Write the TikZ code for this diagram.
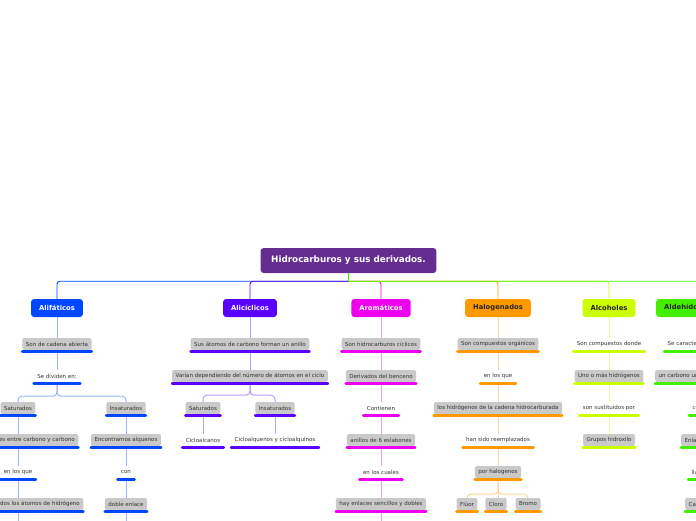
\documentclass[tikz,border=0pt]{standalone}
\usepackage{fontspec}
\setmainfont{DejaVu Sans}
\usetikzlibrary{backgrounds}
\definecolor{rootc}{HTML}{662D91}
\definecolor{alifc}{HTML}{0047FF}
\definecolor{alicc}{HTML}{5A00FF}
\definecolor{aromc}{HTML}{EE00EE}
\definecolor{haloc}{HTML}{FF9900}
\definecolor{alcoc}{HTML}{CCFF00}
\definecolor{aldec}{HTML}{44EE00}
\definecolor{subgray}{HTML}{C9C9C9}
\definecolor{subtext}{HTML}{333333}
\begin{document}
\begin{tikzpicture}[x=1pt,y=-1pt,
	root/.style={rectangle, rounded corners=3pt, fill=rootc, text=white, font=\fontsize{8.8}{10}\selectfont\bfseries, minimum height=25pt, inner xsep=10.5pt},
	main/.style={rectangle, rounded corners=3pt, fill=#1, text=black!85, font=\fontsize{6.8}{8}\selectfont\bfseries, minimum height=18pt, inner xsep=8pt},
	ul/.style={append after command={\pgfextra{\let\ulnode=\tikzlastnode}
		([yshift=-1.2pt]\ulnode.south west) edge[draw=#1, line width=2.4pt, line cap=round] ([yshift=-1.2pt]\ulnode.south east)}},
	sub/.style={rectangle, rounded corners=2pt, fill=subgray, text=subtext, font=\fontsize{5.5}{6}\selectfont, minimum height=12pt, inner xsep=3.5pt, inner ysep=0pt, ul=#1},
	txt/.style={rectangle, text=subtext, font=\fontsize{5.5}{6}\selectfont, minimum height=12pt, inner xsep=3.5pt, inner ysep=0pt, ul=#1},
	bus/.style={draw=#1, line width=0.9pt, rounded corners=3pt},
	link/.style={draw=#1!40, line width=1pt, rounded corners=4pt}]
	
	\useasboundingbox (0,0) rectangle (696,520);
	
	%Root
	\node[root] (root) at (348.5,260.5) {Hidrocarburos y sus derivados.};
	\coordinate (hub) at ([yshift=-8pt]root.south);
	
	%Alifaticos
	\node[main=alifc, text=white] (alif) at (57,308) {Alifáticos};
	\node[sub=alifc] (cadena) at (57,344) {Son de cadena abierta};
	\node[txt=alifc] (divid) at (57,376) {Se dividen en:};
	\node[sub=alifc] (satA) at (18,408) {Saturados};
	\node[sub=alifc] (insA) at (126,408) {Insaturados};
	\node[sub=alifc, anchor=east] (enlA) at (78.5,440) {Enlaces simples entre carbono y carbono};
	\node[txt=alifc] (enqA) at (18,472) {en los que};
	\node[sub=alifc, anchor=east] (ocupA) at (83.5,504) {Están ocupados todos los átomos de hidrógeno};
	\node[sub=alifc] (alqA) at (126,440) {Encontramos alquenos};
	\node[txt=alifc] (conA) at (126,472) {con};
	\node[sub=alifc] (dobA) at (126,504) {doble enlace};
	
	%Aliciclicos
	\node[main=alicc, text=white] (alic) at (250,308) {Alicíclicos};
	\node[sub=alicc] (anillo) at (250,344) {Sus átomos de carbono forman un anillo};
	\node[sub=alicc] (varian) at (250,376) {Varían dependiendo del número de átomos en el ciclo};
	\node[sub=alicc] (satB) at (203,408) {Saturados};
	\node[sub=alicc] (insB) at (275,408) {Insaturados};
	\node[txt=alicc] (cicloa) at (203,440) {Cicloalcanos};
	\node[txt=alicc] (ciclob) at (275,440) {Cicloalquenos y cicloalquinos};
	
	%Aromaticos
	\node[main=aromc, text=white] (arom) at (381,308) {Aromáticos};
	\node[sub=aromc] (ciclic) at (381,344) {Son hidrocarburos cíclicos};
	\node[sub=aromc] (bence) at (381,376) {Derivados del benceno};
	\node[txt=aromc] (conti) at (381,408) {Contienen};
	\node[sub=aromc] (eslab) at (381,440) {anillos de 6 eslabones};
	\node[txt=aromc] (cuales) at (381,472) {en los cuales};
	\node[sub=aromc] (dobles) at (381,504) {hay enlaces sencillos y dobles};
	
	%Halogenados
	\node[main=haloc] (halo) at (498,308) {Halogenados};
	\node[sub=haloc] (organ) at (498,344) {Son compuestos orgánicos};
	\node[txt=haloc] (enqH) at (498,376) {en los que};
	\node[sub=haloc] (hidroH) at (498,408) {los hidrógenos de la cadena hidrocarburada};
	\node[txt=haloc] (reemp) at (498,440) {han sido reemplazados};
	\node[sub=haloc] (halog) at (498,472) {por halogenos};
	\node[sub=haloc] (fluor) at (467,504) {Flúor};
	\node[sub=haloc] (cloro) at (496,504) {Cloro};
	\node[sub=haloc] (bromo) at (528,504) {Bromo};
	
	%Alcoholes
	\node[main=alcoc] (alco) at (609,308) {Alcoholes};
	\node[txt=alcoc] (donde) at (609,344) {Son compuestos donde};
	\node[sub=alcoc] (hidroC) at (609,376) {Uno o más hidrógenos};
	\node[txt=alcoc] (sustit) at (609,408) {son sustituidos por};
	\node[sub=alcoc] (hidrox) at (609,440) {Grupos hidroxilo};
	
	%Aldehidos
	\node[main=aldec, anchor=west] (alde) at (656,308) {Aldehídos y cetonas};
	\node[txt=aldec, anchor=west] (caract) at (664,344) {Se caracterizan por tener};
	\node[sub=aldec, anchor=west] (carbon) at (655,376) {un carbono unido a un oxígeno};
	\node[txt=aldec, anchor=west] (conD) at (689,408) {con};
	\node[sub=aldec, anchor=west] (enlD) at (681,440) {Enlace doble};
	\node[txt=aldec, anchor=west] (llam) at (688,472) {llamado};
	\node[sub=aldec, anchor=west] (carbo) at (685,504) {Carbonilo};
	
	%Lines
	\begin{scope}[on background layer]
	\draw[bus=alifc] (hub) -| (alif.north);
	\draw[bus=alicc] (hub) -| (alic.north);
	\draw[bus=aromc] (hub) -| (arom.north);
	\draw[bus=haloc] (hub) -| (halo.north);
	\draw[bus=alcoc] (hub) -| (alco.north);
	\draw[bus=aldec] (hub) -| (alde.north);
	\draw[bus=aldec] (root.south) -- (hub);
	
	\draw[link=alifc] (alif.south) -- (cadena.north);
	\draw[link=alifc] (cadena.south) -- (divid.north);
	\draw[link=alifc] (divid.south) -- ++(0,14) -| (satA.north);
	\draw[link=alifc] (divid.south) -- ++(0,14) -| (insA.north);
	\draw[link=alifc] (satA.south) -- (satA.south |- enlA.north);
	\draw[link=alifc] (satA.south |- enlA.south) -- (enqA.north);
	\draw[link=alifc] (enqA.south) -- (enqA.south |- ocupA.north);
	\draw[link=alifc] (enqA.south |- ocupA.south) -- ++(0,15);
	\draw[link=alifc] (insA.south) -- (alqA.north);
	\draw[link=alifc] (alqA.south) -- (conA.north);
	\draw[link=alifc] (conA.south) -- (dobA.north);
	\draw[link=alifc] (dobA.south) -- ++(0,15);
	
	\draw[link=alicc] (alic.south) -- (anillo.north);
	\draw[link=alicc] (anillo.south) -- (varian.north);
	\draw[link=alicc] (varian.south) -- ++(0,13) -| (satB.north);
	\draw[link=alicc] (varian.south) -- ++(0,13) -| (insB.north);
	\draw[link=alicc] (satB.south) -- (cicloa.north);
	\draw[link=alicc] (insB.south) -- (ciclob.north);
	
	\draw[link=aromc] (arom.south) -- (ciclic.north);
	\draw[link=aromc] (ciclic.south) -- (bence.north);
	\draw[link=aromc] (bence.south) -- (conti.north);
	\draw[link=aromc] (conti.south) -- (eslab.north);
	\draw[link=aromc] (eslab.south) -- (cuales.north);
	\draw[link=aromc] (cuales.south) -- (dobles.north);
	\draw[link=aromc] (dobles.south) -- ++(0,15);
	
	\draw[link=haloc] (halo.south) -- (organ.north);
	\draw[link=haloc] (organ.south) -- (enqH.north);
	\draw[link=haloc] (enqH.south) -- (hidroH.north);
	\draw[link=haloc] (hidroH.south) -- (reemp.north);
	\draw[link=haloc] (reemp.south) -- (halog.north);
	\draw[link=haloc] (halog.south) -- ++(0,16) -| (fluor.north);
	\draw[link=haloc] (halog.south) -- ++(0,16) -| (bromo.north);
	\draw[link=haloc] (halog.south) -- (halog.south |- cloro.north);
	
	\draw[link=alcoc] (alco.south) -- (donde.north);
	\draw[link=alcoc] (donde.south) -- (hidroC.north);
	\draw[link=alcoc] (hidroC.south) -- (sustit.north);
	\draw[link=alcoc] (sustit.south) -- (hidrox.north);
	\end{scope}
\end{tikzpicture}
\end{document}
